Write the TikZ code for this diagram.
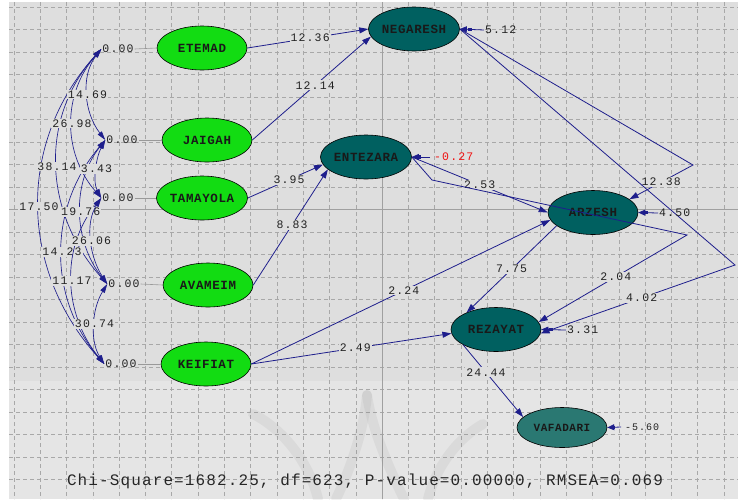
\documentclass[tikz,border=0pt]{standalone}
\usepackage{fontspec}
\usetikzlibrary{shapes.geometric,arrows.meta}
\newfontfamily\labfont[LetterSpace=10]{Liberation Mono}
\newfontfamily\nodefont[LetterSpace=5]{Liberation Mono}
\newfontfamily\chifont[LetterSpace=7]{Liberation Mono}
\definecolor{bg}{HTML}{DEDEDE}
\definecolor{bglight}{HTML}{E5E5E5}
\definecolor{gridc}{HTML}{A8A8A8}
\definecolor{axisc}{HTML}{A0A0A0}
\definecolor{navy}{HTML}{1E1E8C}
\definecolor{lgreen}{HTML}{12DC12}
\definecolor{tealA}{HTML}{006060}
\definecolor{tealB}{HTML}{2A7872}
\definecolor{labc}{HTML}{222222}
\definecolor{redlab}{HTML}{F01010}
\tikzset{
  gridline/.style={draw=gridc, line width=0.7pt, dash pattern=on 4pt off 3pt},
  axisline/.style={draw=axisc, line width=1.4pt},
  lat/.style={ellipse, draw=black, line width=0.6pt, minimum width=90pt, minimum height=44pt, inner sep=0pt,
    font=\nodefont\bfseries\fontsize{12.5}{12.5}\selectfont, text=black!90},
  exo/.style={lat, fill=lgreen},
  endo/.style={lat, fill=tealA},
  lab/.style={font=\labfont\fontsize{11.5}{11.5}\selectfont, text=labc, fill=bg, inner sep=1pt},
  vlab/.style={font=\labfont\fontsize{11.5}{11.5}\selectfont, text=labc, inner sep=1pt},
  conn/.style={draw=navy, line width=0.8pt, -{Triangle[length=9pt,width=6pt]}},
  cov/.style={draw=navy, line width=0.65pt, {Triangle[length=9pt,width=5pt]}-{Triangle[length=9pt,width=5pt]}},
  err/.style={draw=navy, line width=0.8pt, -{Triangle[length=7pt,width=6pt]}},
  ebox/.style={fill=navy, minimum width=4pt, minimum height=3.5pt, inner sep=0pt},
  grayline/.style={draw=gray!80, line width=0.6pt},
  wm/.style={draw=gray, opacity=0.10, line width=10pt, line cap=round},
  chi/.style={font=\chifont\fontsize{16}{16}\selectfont, text=black!85, inner sep=0pt}
}
\begin{document}
\begin{tikzpicture}[x=1pt,y=-1pt]
\useasboundingbox (0,0) rectangle (738,499);
\fill[white] (0,0) rectangle (738,499);
\fill[bg] (9,2) rectangle (738,499);
\fill[bglight] (9,381) rectangle (738,499);
% grid
\foreach \k in {0,...,27} \draw[gridline] ({14+26.3*\k},2) -- ({14+26.3*\k},499);
\foreach \k in {0,...,21} \draw[gridline] (9,{7+22.5*\k}) -- (738,{7+22.5*\k});
\draw[axisline] (382.2,2) -- (382.2,499);
\draw[axisline] (9,209.5) -- (738,209.5);
% watermark
\draw[wm] (367,395) .. controls (364,430) and (350,470) .. (336,499);
\draw[wm] (367,395) .. controls (372,430) and (390,470) .. (404,499);
\draw[wm] (253,414) .. controls (285,430) and (310,465) .. (318,499);
\draw[wm] (483,424) .. controls (455,440) and (435,470) .. (428,499);

% latent variables
\node[exo] (ETEMAD) at (202,48) {ETEMAD};
\node[exo] (JAIGAH) at (207,140) {JAIGAH};
\node[exo] (TAMAYOLA) at (202,198) {TAMAYOLA};
\node[exo] (AVAMEIM) at (208,285) {AVAMEIM};
\node[exo] (KEIFIAT) at (206,364) {KEIFIAT};
\node[endo] (NEGARESH) at (414,29) {NEGARESH};
\node[endo] (ENTEZARA) at (366,157) {ENTEZARA};
\node[endo] (ARZESH) at (593,212.5) {ARZESH};
\node[endo] (REZAYAT) at (496,329.5) {REZAYAT};
\node[lat, fill=tealB, minimum height=40pt, font=\nodefont\bfseries\fontsize{11}{11}\selectfont] (VAFADARI) at (562,427.5) {VAFADARI};

% variance points
\node[vlab] (V1) at (118,49) {0.00};
\node[vlab] (V2) at (122,140) {0.00};
\node[vlab] (V3) at (118,198) {0.00};
\node[vlab] (V4) at (124,284) {0.00};
\node[vlab] (V5) at (121,364) {0.00};
\draw[grayline] (V1.east) -- (ETEMAD.west);
\draw[grayline] (V2.east) -- (JAIGAH.west);
\draw[grayline] (V3.east) -- (TAMAYOLA.west);
\draw[grayline] (V4.east) -- (AVAMEIM.west);
\draw[grayline] (V5.east) -- (KEIFIAT.west);

% covariances
\draw[cov] (V1.west) .. controls +(-85,94) and +(-85,-94) .. node[lab,pos=0.5]{17.50} (V5.west);
\draw[cov] (V1.west) .. controls +(-63,70) and +(-63,-70) .. node[lab,pos=0.5]{38.14} (V4.west);
\draw[cov] (V2.west) .. controls +(-57,67) and +(-57,-67) .. node[lab,pos=0.5]{14.23} (V5.west);
\draw[cov] (V3.west) .. controls +(-41,50) and +(-41,-50) .. node[lab,pos=0.5]{11.17} (V5.west);
\draw[cov] (V1.west) .. controls +(-39,45) and +(-39,-45) .. node[lab,pos=0.5]{26.98} (V3.west);
\draw[cov] (V2.west) .. controls +(-34,43) and +(-34,-43) .. node[lab,pos=0.5]{19.76} (V4.west);
\draw[cov] (V1.west) .. controls +(-21,27) and +(-21,-27) .. node[lab,pos=0.5]{14.69} (V2.west);
\draw[cov] (V3.west) .. controls +(-17,26) and +(-17,-26) .. node[lab,pos=0.5]{26.06} (V4.west);
\draw[cov] (V4.west) .. controls +(-15,24) and +(-15,-24) .. node[lab,pos=0.5]{30.74} (V5.west);
\draw[cov] (V2.west) .. controls +(-9,17) and +(-9,-17) .. node[lab,pos=0.5]{3.43} (V3.west);

% structural paths
\draw[conn] (ETEMAD.east) -- node[lab,pos=0.52]{12.36} (NEGARESH.west);
\draw[conn] (JAIGAH.east) -- node[lab,pos=0.53]{12.14} (NEGARESH.190);
\draw[conn] (TAMAYOLA.east) -- node[lab,pos=0.55]{3.95} (ENTEZARA.190);
\draw[conn] (AVAMEIM.east) -- node[lab,pos=0.52]{8.83} (ENTEZARA.198);
\draw[conn] (KEIFIAT.east) -- node[lab,pos=0.51]{2.24} (ARZESH.190);
\draw[conn] (KEIFIAT.east) -- node[lab,pos=0.52]{2.49} (REZAYAT.185);
\draw[conn] (ENTEZARA.east) -- node[lab,pos=0.5]{2.53} (ARZESH.west);
\draw[conn] (ARZESH.200) -- node[lab,pos=0.5]{7.75} (REZAYAT.150);
\draw[conn] (REZAYAT.205) -- node[lab,pos=0.38]{24.44} (VAFADARI.165);
\coordinate (bA) at (693,165);
\coordinate (bB) at (735,265);
\coordinate (bC) at (432,180);
\coordinate (bD) at (687,235);
\draw[conn] (NEGARESH.east) -- (bA) -- node[lab,pos=0.5]{12.38} (ARZESH.20);
\draw[conn] (NEGARESH.east) -- (bB) -- node[lab,pos=0.48]{4.02} (REZAYAT.355);
\draw[conn] (ENTEZARA.east) -- (bC) -- (bD) -- node[lab,pos=0.48]{2.04} (REZAYAT.10);

% error terms
\node[vlab, anchor=west] (e1) at (484,30) {5.12};
\draw[err] (e1.west) -- node[ebox,pos=0.6]{} (NEGARESH.east);
\node[vlab, anchor=west, text=redlab] (e2) at (433,157) {-0.27};
\draw[err] ([xshift=-3pt]e2.west) -- node[ebox,pos=0.6]{} (ENTEZARA.east);
\node[vlab, anchor=west] (e3) at (658,213) {4.50};
\draw[err] (e3.west) -- node[ebox,pos=0.6]{} (ARZESH.east);
\node[vlab, anchor=west] (e4) at (566,330) {3.31};
\draw[err] (e4.west) -- node[ebox,pos=0.6]{} (REZAYAT.east);
\node[vlab, anchor=west, font=\labfont\fontsize{10}{10}\selectfont] (e5) at (624,427) {-5.60};
\draw[err] ([xshift=-3pt]e5.west) -- node[ebox,pos=0.6]{} (VAFADARI.east);

% fit statistics
\node[chi] (fit) at (365,481) {Chi-Square=1682.25, df=623, P-value=0.00000, RMSEA=0.069};
\end{tikzpicture}
\end{document}
